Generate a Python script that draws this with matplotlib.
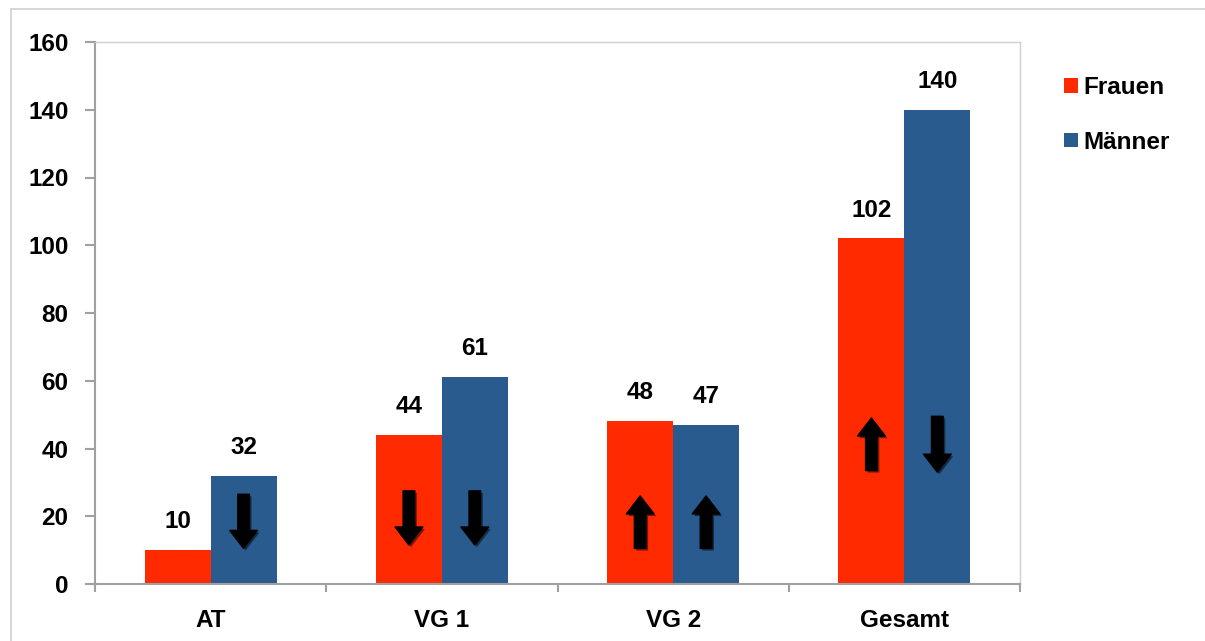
import matplotlib
matplotlib.use("Agg")
import matplotlib.pyplot as plt
import matplotlib.patheffects as pe
from matplotlib.patches import Rectangle
import numpy as np

plt.rcParams['font.family'] = ['Liberation Sans', 'DejaVu Sans']
plt.rcParams['font.weight'] = 'bold'

categories = ['AT', 'VG 1', 'VG 2', 'Gesamt']
frauen = [10, 44, 48, 102]
maenner = [32, 61, 47, 140]
# arrow direction per bar: -1 down, 1 up, 0 none
pfeil_frauen = [0, -1, 1, 1]
pfeil_maenner = [-1, -1, 1, -1]
# arrow span (low, high) in data units
pfeil_bereich_frauen = [None, (11.5, 27.5), (10.5, 26), (33.5, 49)]
pfeil_bereich_maenner = [(10.5, 26.5), (11.5, 27.5), (10.5, 26), (33, 49.5)]

rot = '#FF2A00'
blau = '#295B8E'

fig = plt.figure(figsize=(12.05, 6.41), dpi=100)
# outer chart frame
fig.patches.append(Rectangle((11 / 1205, -0.1), 1.2, 1 - 9 / 641 + 0.1, transform=fig.transFigure,
                             fill=False, edgecolor='#d0d0d0', linewidth=1.2))
ax = fig.add_axes([95 / 1205, 1 - 584 / 641, (1020 - 95) / 1205, (584 - 42) / 641])

x = np.arange(len(categories))
w = 0.285
b1 = ax.bar(x - w / 2, frauen, w, color=rot, label='Frauen')
b2 = ax.bar(x + w / 2, maenner, w, color=blau, label='Männer')

for bars, vals in ((b1, frauen), (b2, maenner)):
    for r, v in zip(bars, vals):
        ax.text(r.get_x() + r.get_width() / 2, v + 5, str(v), ha='center', va='bottom',
                fontsize=17.5, fontweight='bold')

schatten = [pe.SimplePatchShadow(offset=(1.5, -1.5), alpha=0.5, rho=0.3), pe.Normal()]
for off, richt, bereich in ((-w / 2, pfeil_frauen, pfeil_bereich_frauen),
                            (w / 2, pfeil_maenner, pfeil_bereich_maenner)):
    for i, (d, br) in enumerate(zip(richt, bereich)):
        if d == 0:
            continue
        lo, hi = br
        start, end = (hi, lo) if d < 0 else (lo, hi)
        ax.annotate('', xy=(i + off, end), xytext=(i + off, start),
                    arrowprops=dict(arrowstyle='simple,head_length=0.65,head_width=1.0,tail_width=0.42',
                                    color='black', mutation_scale=20, shrinkA=0, shrinkB=0,
                                    path_effects=schatten))

ax.set_xlim(-0.5, 3.5)
ax.set_ylim(0, 160)
ax.set_yticks(range(0, 161, 20))
ax.set_xticks(x)
ax.set_xticklabels(categories)
ax.set_xticks(np.arange(-0.5, 4, 1), minor=True)
ax.tick_params(axis='x', which='major', length=0, pad=18, labelsize=17.5)
ax.tick_params(axis='x', which='minor', length=6, color='#a0a0a0', width=1.5, direction='out')
ax.tick_params(axis='y', length=7, color='#a0a0a0', width=1.5, labelsize=17.5, pad=12)
for lab in ax.get_xticklabels() + ax.get_yticklabels():
    lab.set_fontweight('bold')

for s in ('top', 'right'):
    ax.spines[s].set_color('#d0d0d0')
    ax.spines[s].set_linewidth(1)
for s in ('left', 'bottom'):
    ax.spines[s].set_color('#a0a0a0')
    ax.spines[s].set_linewidth(1.5)

leg = fig.legend(handles=[b1, b2], loc='upper left', bbox_to_anchor=(1052 / 1205, 1 - 64 / 641),
                 frameon=False, fontsize=17.5, handlelength=0.55, handleheight=0.55,
                 handletextpad=0.25, labelspacing=1.3, borderpad=0)
for t in leg.get_texts():
    t.set_fontweight('bold')

fig.savefig('out.png', dpi=100)
